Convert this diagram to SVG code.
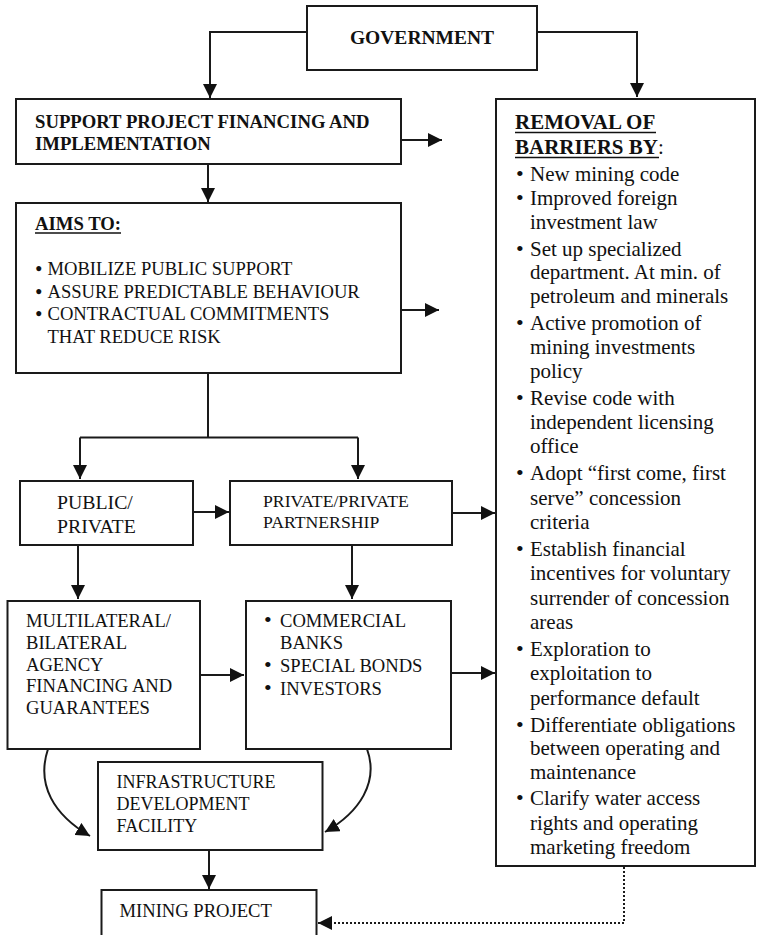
<svg xmlns="http://www.w3.org/2000/svg" width="757" height="935" viewBox="0 0 757 935">
<style>
  .box { fill: #fff; stroke: #1a1a1a; stroke-width: 2; }
  .t { font-family: "Liberation Serif", "Times New Roman", serif; fill: #111; }
  .b { font-weight: bold; }
  .r21 { font-size: 21px; }
  .s18 { font-size: 18.6px; }
  .s18b { font-size: 18.7px; font-weight: bold; }
  .bl { font-size: 22px; }
  .ul { stroke: #111; stroke-width: 1.6; }
  .conn path { fill: none; stroke: #1a1a1a; stroke-width: 2; }
  .conn path.dot { stroke-dasharray: 2 2; }
</style>
<defs>
  <marker id="ah" markerUnits="userSpaceOnUse" markerWidth="15" markerHeight="14" refX="14" refY="7" orient="auto">
    <path d="M0,0 L14,7 L0,14 z" fill="#111"/>
  </marker>
</defs>
<rect width="757" height="935" fill="#fff"/>

<g id="government">
  <rect class="box" x="307" y="6" width="230" height="64"/>
  <text class="t b" x="422" y="44" font-size="19.5" text-anchor="middle">GOVERNMENT</text>
</g>

<g id="support">
  <rect class="box" x="16" y="99" width="385" height="65"/>
  <text class="t s18b" x="35" y="128">SUPPORT PROJECT FINANCING AND</text>
  <text class="t s18b" x="35" y="150">IMPLEMENTATION</text>
</g>

<g id="aims">
  <rect class="box" x="16" y="203" width="385" height="170"/>
  <text class="t s18b" x="35" y="230">AIMS TO:</text>
  <line class="ul" x1="35" y1="233" x2="121" y2="233"/>
  <g class="t s18">
    <text x="35.5" y="275"><tspan font-weight="bold">•</tspan><tspan x="47.5">MOBILIZE PUBLIC SUPPORT</tspan></text>
    <text x="35.5" y="297.7"><tspan font-weight="bold">•</tspan><tspan x="47.5">ASSURE PREDICTABLE BEHAVIOUR</tspan></text>
    <text x="35.5" y="320"><tspan font-weight="bold">•</tspan><tspan x="47.5">CONTRACTUAL COMMITMENTS</tspan></text>
    <text x="47.5" y="342.7">THAT REDUCE RISK</text>
  </g>
</g>

<g id="public-private">
  <rect class="box" x="20" y="481" width="173" height="64"/>
  <text class="t" x="57" y="509" font-size="19.8">PUBLIC/</text>
  <text class="t" x="57" y="533" font-size="19.8">PRIVATE</text>
</g>

<g id="private-private">
  <rect class="box" x="230" y="481" width="222" height="64"/>
  <text class="t" x="263" y="506.5" font-size="17.7">PRIVATE/PRIVATE</text>
  <text class="t" x="263" y="528.3" font-size="17.7">PARTNERSHIP</text>
</g>

<g id="multilateral">
  <rect class="box" x="7.5" y="601" width="192.5" height="148"/>
  <g class="t s18">
    <text x="26" y="627.3">MULTILATERAL/</text>
    <text x="26" y="649.3">BILATERAL</text>
    <text x="26" y="670.5">AGENCY</text>
    <text x="26" y="691.7">FINANCING AND</text>
    <text x="26" y="714">GUARANTEES</text>
  </g>
</g>

<g id="commercial">
  <rect class="box" x="246" y="601" width="205" height="148"/>
  <g class="t s18">
    <text x="264" y="627.3"><tspan class="bl">•</tspan><tspan x="280">COMMERCIAL</tspan></text>
    <text x="280" y="649.3">BANKS</text>
    <text x="264" y="671.7"><tspan class="bl">•</tspan><tspan x="280">SPECIAL BONDS</tspan></text>
    <text x="264" y="695"><tspan class="bl">•</tspan><tspan x="280">INVESTORS</tspan></text>
  </g>
</g>

<g id="infrastructure">
  <rect class="box" x="98" y="762" width="224.5" height="88"/>
  <g class="t" font-size="18">
    <text x="116.5" y="788.3">INFRASTRUCTURE</text>
    <text x="116.5" y="810">DEVELOPMENT</text>
    <text x="116.5" y="831.7">FACILITY</text>
  </g>
</g>

<g id="mining-project">
  <rect class="box" x="101.5" y="890" width="215" height="60"/>
  <text class="t s18" x="119.5" y="917.3">MINING PROJECT</text>
</g>

<g id="removal-of-barriers">
  <rect class="box" x="496" y="99" width="259" height="767"/>
  <text class="t b r21" x="515" y="129">REMOVAL OF</text>
  <line class="ul" x1="515" y1="132.5" x2="656" y2="132.5"/>
  <text class="t r21" x="515" y="154"><tspan font-weight="bold">BARRIERS BY</tspan>:</text>
  <line class="ul" x1="515" y1="157.5" x2="659" y2="157.5"/>
  <g class="t r21">
    <text x="516" y="180.7"><tspan class="bl">•</tspan><tspan x="530">New mining code</tspan></text>
    <text x="516" y="205"><tspan class="bl">•</tspan><tspan x="530">Improved foreign</tspan></text>
    <text x="530" y="228.7">investment law</text>
    <text x="516" y="255.7"><tspan class="bl">•</tspan><tspan x="530">Set up specialized</tspan></text>
    <text x="530" y="279.3">department. At min. of</text>
    <text x="530" y="303.3">petroleum and minerals</text>
    <text x="516" y="330"><tspan class="bl">•</tspan><tspan x="530">Active promotion of</tspan></text>
    <text x="530" y="354">mining investments</text>
    <text x="530" y="377.7">policy</text>
    <text x="516" y="405"><tspan class="bl">•</tspan><tspan x="530">Revise code with</tspan></text>
    <text x="530" y="428.5">independent licensing</text>
    <text x="530" y="453.3">office</text>
    <text x="516" y="480"><tspan class="bl">•</tspan><tspan x="530">Adopt “first come, first</tspan></text>
    <text x="530" y="505">serve” concession</text>
    <text x="530" y="529.3">criteria</text>
    <text x="516" y="556"><tspan class="bl">•</tspan><tspan x="530">Establish financial</tspan></text>
    <text x="530" y="580">incentives for voluntary</text>
    <text x="530" y="605">surrender of concession</text>
    <text x="530" y="629.3">areas</text>
    <text x="516" y="656"><tspan class="bl">•</tspan><tspan x="530">Exploration to</tspan></text>
    <text x="530" y="680">exploitation to</text>
    <text x="530" y="705">performance default</text>
    <text x="516" y="731.7"><tspan class="bl">•</tspan><tspan x="530">Differentiate obligations</tspan></text>
    <text x="530" y="755">between operating and</text>
    <text x="530" y="779.3">maintenance</text>
    <text x="516" y="805"><tspan class="bl">•</tspan><tspan x="530">Clarify water access</tspan></text>
    <text x="530" y="830">rights and operating</text>
    <text x="530" y="854">marketing freedom</text>
  </g>
</g>

<g id="connectors" class="conn">
  <path d="M307,32 H210 V98" marker-end="url(#ah)"/>
  <path d="M537,32 H637 V97" marker-end="url(#ah)"/>
  <path d="M208,164 V202" marker-end="url(#ah)"/>
  <path d="M401,140 H442" marker-end="url(#ah)"/>
  <path d="M401,310 H439" marker-end="url(#ah)"/>
  <path d="M208,373 V437.5"/>
  <path d="M80,437.5 H358"/>
  <path d="M80,437.5 V479" marker-end="url(#ah)"/>
  <path d="M358,437.5 V479" marker-end="url(#ah)"/>
  <path d="M193,512 H229" marker-end="url(#ah)"/>
  <path d="M452,513 H495" marker-end="url(#ah)"/>
  <path d="M78,545 V599" marker-end="url(#ah)"/>
  <path d="M352,545 V599" marker-end="url(#ah)"/>
  <path d="M200,675 H244" marker-end="url(#ah)"/>
  <path d="M451,673 H495" marker-end="url(#ah)"/>
  <path d="M48,749 C36,785 54,815 90,836" marker-end="url(#ah)"/>
  <path d="M367,749 C379,782 360,812 325,832" marker-end="url(#ah)"/>
  <path d="M209,850 V889" marker-end="url(#ah)"/>
  <path class="dot" d="M624,867 V923 H318" marker-end="url(#ah)"/>
</g>
</svg>
